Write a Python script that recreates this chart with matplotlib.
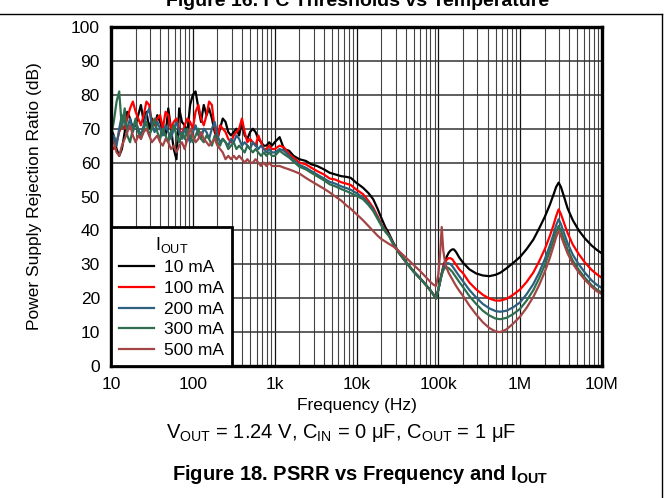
import matplotlib
matplotlib.use('Agg')
import matplotlib.pyplot as plt
from matplotlib.lines import Line2D
from matplotlib.ticker import FixedLocator, NullFormatter
import numpy as np

plt.rcParams['font.family'] = ['Liberation Sans', 'DejaVu Sans']
plt.rcParams['mathtext.fontset'] = 'custom'
plt.rcParams['mathtext.rm'] = 'Liberation Sans'
plt.rcParams['mathtext.it'] = 'Liberation Sans:italic'
plt.rcParams['mathtext.bf'] = 'Liberation Sans:bold'

# frequency points (Hz), shared by all curves
freq = [10, 10.8, 11.7, 12.6, 13.6, 14.7, 15.8, 17.1, 18.5, 20,
        21.5, 23.2, 25.1, 27.1, 29.3, 31.6, 34.1, 36.8, 39.8, 43,
        46.4, 50.1, 54.1, 58.4, 63.1, 68.1, 73.6, 79.4, 85.8, 92.6,
        100, 108, 117, 126, 136, 147, 158, 171, 185, 200,
        215, 232, 251, 271, 293, 316, 341, 368, 398, 430,
        464, 501, 541, 584, 631, 681, 736, 794, 858, 926, 1000,
        1.15e3, 1.3e3, 1.5e3, 1.7e3, 2e3, 2.4e3, 2.8e3, 3.3e3, 4e3, 4.7e3,
        5.5e3, 6.5e3, 7.5e3, 8.5e3, 10e3, 12e3, 14e3, 16e3, 18e3, 20e3,
        22.5e3, 25e3, 28e3, 32e3, 40e3, 50e3, 60e3, 70e3, 80e3, 87e3,
        93.5e3, 100e3, 105e3, 110e3, 115e3, 121e3, 127e3, 133e3, 140e3, 148e3,
        155e3, 165e3, 180e3, 200e3, 240e3, 290e3, 350e3, 420e3, 500e3, 570e3,
        680e3, 820e3, 1e6, 1.2e6, 1.45e6, 1.7e6, 2e6, 2.3e6, 2.55e6, 2.75e6,
        2.95e6, 3.15e6, 3.4e6, 3.8e6, 4.4e6, 5.2e6, 6.2e6, 7.5e6, 8.7e6, 10e6]

psrr_10mA = [70, 68, 64, 62, 64, 69, 75, 73, 70, 71,
             74, 77, 72, 75, 70, 73, 71, 74, 72, 70,
             68, 76, 70, 64, 61, 76, 72, 71, 69, 77,
             80, 81, 76, 72, 77, 74, 76, 73, 69, 67,
             70, 73, 72, 69, 68, 69, 70, 68, 72, 68,
             67, 69, 70, 69, 67, 66, 65, 65, 66, 65, 66,
             67.5, 64, 63.5, 62, 61, 60.5, 59.5, 59, 58, 57,
             56.5, 56, 55.8, 55.5, 54, 52.6, 51, 49.2, 46.5, 43.8,
             41, 39, 36.5, 34, 30.8, 27.9, 25.9, 24, 22.3, 21.1,
             19.9, 22.5, 25, 27.3, 29.3, 31, 32.3, 33.3, 34, 34.4,
             34.4, 33.6, 32, 30.5, 28.5, 27.3, 26.7, 26.5, 26.9, 27.5,
             28.8, 30.4, 32.2, 34.5, 37.3, 40.5, 44, 47.5, 50.5, 52.8,
             54.1, 52.8, 50.3, 46.5, 43, 40, 37.6, 35.5, 34.2, 33.2]

psrr_100mA = [65, 64, 66, 69, 71, 70, 73, 76, 78, 75,
              73, 71, 74, 78, 77, 72, 71, 73, 74, 70,
              75, 74, 70, 72, 73, 70, 68, 71, 73, 72,
              70, 75, 77, 73, 71, 74, 78, 77, 70, 67,
              71, 70, 69, 67, 66, 68, 69, 70, 73, 69,
              66, 67, 66, 65, 68, 66, 64, 64, 65, 64, 64,
              65, 64.5, 62.5, 61.5, 60, 59.5, 58.5, 57.5, 56.5, 55.3,
              55, 54.2, 53.8, 53.4, 52, 50.7, 48.7, 46.7, 44.3, 42,
              40, 38.5, 36.2, 33.8, 30.7, 27.8, 25.8, 24, 22.3, 21.1,
              19.9, 22.5, 25, 27.3, 29.2, 30.6, 31.4, 31.8, 31.8, 31.5,
              30.8, 29.8, 28.5, 27.4, 24.6, 22.6, 21, 19.9, 19.3, 19.3,
              19.8, 21, 22.6, 24.8, 27.6, 30.8, 34.5, 38.3, 41.5, 44.2,
              46.2, 44.8, 42.5, 39.2, 35.8, 33, 30.5, 28.3, 27, 26]

psrr_200mA = [66, 68, 65, 70, 74, 72, 70, 73, 69, 72,
              70, 68, 71, 74, 76, 71, 69, 72, 70, 68,
              71, 69, 67, 70, 72, 69, 67, 70, 68, 66,
              69, 71, 68, 67, 70, 69, 67, 70, 72, 68,
              66, 67, 66, 65, 67, 66, 68, 67, 65, 66,
              65, 64, 66, 65, 64, 65, 64, 63, 64, 63, 63,
              64, 63.5, 62, 60.8, 59.3, 58.5, 57.5, 56.5, 55.3, 54.3,
              53.8, 53, 52.5, 52, 51, 49.7, 48, 46.2, 43.8, 41.8,
              39.8, 38.4, 36.1, 33.8, 30.7, 27.8, 25.8, 24, 22.3, 21.1,
              19.9, 22.5, 25, 27.2, 28.9, 29.9, 30.3, 30.3, 30.1, 29.5,
              28.8, 27.8, 26.5, 25, 22.4, 20.2, 18.3, 17, 16.2, 16,
              16.3, 17.3, 18.8, 21.2, 24.2, 27.5, 31.5, 35.5, 38.8, 41.5,
              43.3, 41.8, 39.5, 36.2, 32.8, 30, 27.5, 25.2, 23.9, 23]

psrr_300mA = [68, 72, 78, 81, 70, 76, 68, 66, 70, 73,
              69, 67, 70, 72, 68, 70, 73, 69, 67, 70,
              68, 66, 69, 71, 68, 66, 69, 67, 70, 68,
              66, 68, 70, 67, 66, 68, 67, 65, 68, 66,
              65, 67, 66, 64, 65, 66, 64, 65, 64, 63,
              65, 64, 63, 64, 63, 62, 63, 62, 63, 62, 62,
              63.5, 62.5, 61.5, 60.3, 58.8, 58, 57, 56, 54.8, 53.6,
              53, 52.2, 51.6, 51, 50.2, 49.2, 47.5, 45.7, 43.5, 41.5,
              39.6, 38.3, 36, 33.8, 30.7, 27.8, 25.8, 24, 22.3, 21.1,
              19.9, 22.5, 24.8, 26.8, 28.2, 29, 29.1, 28.9, 28.4, 27.8,
              27.1, 26.1, 24.8, 23.3, 20.6, 18.3, 16.3, 14.9, 14, 13.8,
              14.2, 15.3, 16.9, 19.3, 22.4, 25.8, 29.8, 33.8, 37, 39.6,
              41.3, 39.9, 37.6, 34.4, 31.1, 28.4, 26, 23.8, 22.5, 21.6]

psrr_500mA = [67, 66, 63, 62, 65, 67, 69, 71, 68, 66,
              68, 67, 69, 70, 68, 66, 67, 68, 66, 65,
              67, 66, 64, 65, 63, 65, 66, 64, 67, 70,
              68, 66, 67, 69, 67, 66, 65, 66, 67, 65,
              64, 63, 61, 62, 61, 62, 61, 62, 61, 60,
              61, 60, 60, 61, 60, 59, 60, 59, 60, 59, 59,
              59, 58.5, 58, 57.5, 56.8, 55.5, 54.5, 53.5, 52.3, 51.2,
              50, 48.8, 47.4, 46.4, 44.8, 43, 41.3, 39.8, 38.5, 37.5,
              36.7, 36, 35.3, 34.2, 32, 29.8, 28, 26.3, 24.8, 24,
              23.6, 27, 33, 41, 34, 30.5, 28.8, 27.6, 26.6, 25.6,
              24.7, 23.6, 22.2, 20.7, 17.8, 15.2, 12.9, 11.2, 10.2, 10,
              10.8, 12.5, 14.6, 17.2, 20.4, 23.8, 27.8, 31.8, 35.3, 38,
              39.8, 38.4, 36.2, 33.2, 30.2, 27.6, 25.4, 23.3, 22, 21.2]

labels = ['10 mA', '100 mA', '200 mA', '300 mA', '500 mA']
colors = ['#000000', '#ff0000', '#2d5f7f', '#2e6e4e', '#a34545']
series = [psrr_10mA, psrr_100mA, psrr_200mA, psrr_300mA, psrr_500mA]

W, H = 669, 498
fig = plt.figure(figsize=(W/100, H/100), dpi=100)
ax = fig.add_axes([111/W, 1-366/H, (602-111)/W, (366-27)/H])

for vals, c, lab in zip(series, colors, labels):
    ax.plot(freq, vals, color=c, lw=1.6, label=lab, zorder=3)

ax.set_xscale('log')
ax.set_xlim(10, 10e6)
ax.set_ylim(0, 100)
ax.set_yticks(np.arange(0, 101, 10))
ax.set_xticks([10, 100, 1e3, 1e4, 1e5, 1e6, 1e7])
ax.set_xticklabels(['10', '100', '1k', '10k', '100k', '1M', '10M'])
minor = [m*10**d for d in range(1, 7) for m in range(2, 10)]
ax.xaxis.set_minor_locator(FixedLocator(minor))
ax.xaxis.set_minor_formatter(NullFormatter())
ax.tick_params(which='both', length=0, labelsize=12.5, pad=8)
ax.grid(True, which='major', axis='x', color='#111111', lw=0.9, zorder=1)
ax.grid(True, which='minor', axis='x', color='#444444', lw=0.8, zorder=1)
ax.grid(True, which='major', axis='y', color='#333333', lw=1.1, zorder=1)
for s in ax.spines.values():
    s.set_linewidth(2.4)
    s.set_zorder(5)

fig.text(356.5/W, 1-405/H, 'Frequency (Hz)', ha='center', va='center', fontsize=12.5)
fig.text(35/W, 1-196.5/H, 'Power Supply Rejection Ratio (dB)', rotation=90,
         ha='center', va='center', fontsize=12.5)

leg = ax.legend(loc='lower left', bbox_to_anchor=(0, 0), borderaxespad=0,
                title=r'I$_{\mathrm{OUT}}$', fontsize=12.5, title_fontsize=13,
                fancybox=False, framealpha=1, edgecolor='black',
                handlelength=2.0, handletextpad=0.6, labelspacing=0.32,
                borderpad=0.45)
leg.get_frame().set_linewidth(2.0)
leg.set_zorder(6)

fig.text(341/W, 1-433/H,
         r'V$_{\mathrm{OUT}}$ = 1.24 V, C$_{\mathrm{IN}}$ = 0 μF, C$_{\mathrm{OUT}}$ = 1 μF',
         ha='center', va='center', fontsize=14.5)
fig.text(360/W, 1-474/H, r'Figure 18. PSRR vs Frequency and I$_{\mathbf{OUT}}$',
         ha='center', va='center', fontsize=14.5, fontweight='bold')
fig.text(358/W, 1-6.5/H, 'Figure 16. I²C Thresholds vs Temperature',
         ha='center', va='baseline', fontsize=14, fontweight='bold')

fig.add_artist(Line2D([0, 662/W], [1-14/H, 1-14/H], color='black', lw=1.0))
fig.add_artist(Line2D([662/W, 662/W], [1-14/H, 0], color='black', lw=1.0))

fig.savefig('out.png', dpi=100)
